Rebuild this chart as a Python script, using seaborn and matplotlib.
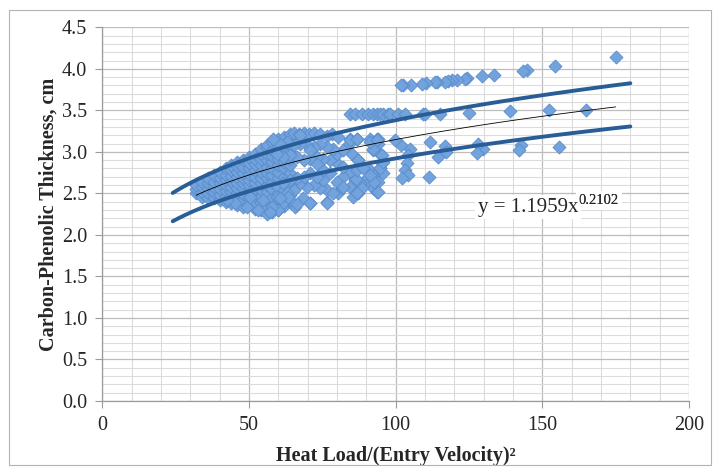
import numpy as np
import pandas as pd
import matplotlib
matplotlib.use("Agg")
import matplotlib.pyplot as plt
import seaborn as sns
from matplotlib.patches import Rectangle
from matplotlib.ticker import MultipleLocator

# ---------------- data ----------------
cluster_x = [32]*3 + [34]*4 + [36]*5 + [38]*5 + [40]*6 + [42]*7 + [44]*8 + [46]*9 + [48]*9 + [50]*9 \
    + [52]*10 + [54]*11 + [56]*12 + [58]*11 + [60]*11 + [62]*11 + [64]*11
cluster_y = [2.50, 2.55, 2.60,
             2.46, 2.52, 2.58, 2.64,
             2.44, 2.50, 2.56, 2.62, 2.68,
             2.45, 2.52, 2.58, 2.64, 2.72,
             2.42, 2.48, 2.55, 2.62, 2.68, 2.76,
             2.40, 2.47, 2.53, 2.60, 2.66, 2.72, 2.80,
             2.38, 2.45, 2.52, 2.58, 2.65, 2.71, 2.78, 2.84,
             2.36, 2.44, 2.50, 2.57, 2.63, 2.70, 2.76, 2.83, 2.88,
             2.34, 2.42, 2.49, 2.56, 2.62, 2.68, 2.75, 2.82, 2.90,
             2.37, 2.45, 2.52, 2.60, 2.66, 2.73, 2.80, 2.87, 2.94,
             2.31, 2.40, 2.48, 2.56, 2.63, 2.70, 2.78, 2.85, 2.92, 2.98,
             2.30, 2.38, 2.46, 2.54, 2.62, 2.69, 2.76, 2.84, 2.91, 2.98, 3.04,
             2.25, 2.34, 2.44, 2.52, 2.60, 2.68, 2.75, 2.82, 2.90, 2.97, 3.05, 3.08,
             2.27, 2.36, 2.45, 2.55, 2.64, 2.72, 2.80, 2.88, 2.95, 3.02, 3.12,
             2.30, 2.40, 2.50, 2.58, 2.68, 2.76, 2.84, 2.92, 3.00, 3.08, 3.15,
             2.35, 2.44, 2.54, 2.62, 2.70, 2.80, 2.88, 2.96, 3.04, 3.12, 3.18,
             2.40, 2.48, 2.58, 2.66, 2.75, 2.84, 2.92, 3.00, 3.08, 3.16, 3.22]

mid_x = [65.2, 66.9, 68.6, 70.3, 72.0, 74.2, 76.5, 78.2, 80.5, 84.5, 86.7, 84.2, 85.0, 87.3,
         91.3, 93.6, 94.1, 92.4, 94.7, 95.3, 91.3, 93.0, 94.7, 86.7, 84.5, 82.2, 86.2, 89.0,
         91.3, 94.1, 92.4, 93.6, 87.3, 85.6, 80.5, 81.6, 76.5, 70.8, 65.7, 64.0, 61.7, 60.0,
         57.8, 76.5, 74.2, 72.0, 69.7, 67.4, 65.2, 62.9, 59.5, 75.4, 77.7, 75.4, 73.1, 70.8,
         68.6, 66.3, 64.0, 61.7, 79.9, 77.7, 75.4, 73.1, 70.8, 68.6, 66.3, 64.0, 61.7, 59.5,
         79.9, 82.2, 78.8, 76.5, 74.2, 72.0, 69.7, 67.4, 65.2, 62.9, 60.6, 58.3, 84.5, 79.9,
         82.2, 67.4, 70.8, 73.1, 78.8, 82.2, 86.7, 87.9, 68.5, 63.4, 60.6, 66.3, 70.8, 76.5,
         49.2, 53.2, 57.2, 45.2, 42.4, 54.9, 50.4]
mid_y = [3.23, 3.21, 3.23, 3.21, 3.23, 3.21, 3.19, 3.21, 3.18, 3.16, 3.15, 3.10, 2.98, 2.90,
         3.15, 3.16, 3.10, 3.02, 2.98, 2.86, 2.78, 2.72, 2.80, 2.80, 2.74, 2.70, 2.66, 2.64,
         2.64, 2.64, 2.56, 2.52, 2.50, 2.46, 2.50, 2.56, 2.40, 2.38, 2.34, 2.42, 2.38, 2.30,
         2.34, 2.54, 2.56, 2.60, 2.58, 2.62, 2.54, 2.50, 2.46, 2.66, 2.74, 2.78, 2.70, 2.74,
         2.70, 2.68, 2.66, 2.62, 2.86, 2.90, 2.92, 2.94, 2.92, 2.90, 2.94, 2.96, 2.94, 2.98,
         2.98, 3.02, 3.04, 3.06, 3.10, 3.06, 3.08, 3.10, 3.08, 3.12, 3.10, 3.15, 2.58, 2.64,
         2.82, 3.20, 3.02, 2.85, 2.50, 2.58, 2.52, 2.62, 2.44, 2.46, 2.44, 2.37, 2.38, 2.38,
         2.34, 2.30, 2.27, 2.39, 2.42, 2.42, 2.46]

right_x = [175.1, 154.3, 144.7, 143.5, 133.5, 129.6, 124.2, 123.6, 120.8, 119.1, 117.9, 116.8,
           114.0, 113.4, 110.3, 108.9, 105.4, 102.6, 101.7,
           84.4, 86.1, 88.4, 90.7, 92.4, 93.5, 94.6, 95.8, 97.5, 98.0, 100.9, 103.2, 109.4, 110.0,
           115.1, 125.1, 139.0, 152.3, 164.9,
           155.8, 142.9, 142.1, 129.9, 128.2, 127.6, 116.8, 117.1, 114.6, 111.7, 111.5, 104.9,
           104.3, 101.8, 99.8, 103.7, 103.2, 104.3, 102.0, 94.1, 88.4, 86.9, 95.6, 94.6, 95.8,
           95.3, 92.6, 91.2, 86.5, 87.3, 86.8, 89.0, 92.4, 91.2, 94.1, 93.5, 84.4, 86.7]
right_y = [4.14, 4.03, 3.98, 3.97, 3.93, 3.91, 3.89, 3.88, 3.87, 3.86, 3.85, 3.84,
           3.84, 3.84, 3.83, 3.82, 3.81, 3.80, 3.80,
           3.46, 3.46, 3.46, 3.46, 3.46, 3.46, 3.46, 3.46, 3.46, 3.46, 3.46, 3.46, 3.46, 3.46,
           3.45, 3.47, 3.49, 3.50, 3.51,
           3.06, 3.08, 3.02, 3.04, 3.10, 2.99, 3.07, 3.00, 2.94, 3.12, 2.70, 3.03,
           2.96, 3.08, 3.14, 2.86, 2.78, 2.72, 2.68, 2.52, 2.56, 2.50, 2.74, 2.80, 2.88,
           2.96, 2.64, 2.72, 2.67, 2.90, 2.78, 2.80, 3.04, 3.12, 3.16, 3.14, 3.14, 3.16]

x_pts = cluster_x + mid_x + right_x
y_pts = cluster_y + mid_y + right_y

# Power-law trendline shown on the chart, y = a x^b, and its bounds
fit_a, fit_b = 1.1959, 0.2102
fit_label = "y = 1.1959x"
fit_exp_label = "0.2102"
fit_range = (32, 175)
bound_range = (24, 180)
upper_factor, lower_factor = 1.074, 0.928

x_ticks = [0, 50, 100, 150, 200]
y_ticks = [0.0, 0.5, 1.0, 1.5, 2.0, 2.5, 3.0, 3.5, 4.0, 4.5]

# ---------------- styling ----------------
sns.set_style("white")
plt.rcParams["font.family"] = ["Liberation Serif", "DejaVu Serif"]

fig = plt.figure(figsize=(7.19, 4.69), dpi=100)
ax = fig.add_axes([102.3/719, 1-401/469, (689-102.3)/719, (401-27.3)/469])

# outer chart border
fig.patches.append(Rectangle((9/719, 4/469), (711-9)/719, (459-4)/469, transform=fig.transFigure,
                             fill=False, edgecolor="#b3b3b3", linewidth=0.8))

ax.set_xlim(0, 200)
ax.set_ylim(0, 4.5)
ax.xaxis.set_major_locator(MultipleLocator(50))
ax.xaxis.set_minor_locator(MultipleLocator(10))
ax.yaxis.set_major_locator(MultipleLocator(0.5))
ax.yaxis.set_minor_locator(MultipleLocator(0.1))
ax.grid(which="major", color="#bdbdbd", linewidth=0.9)
ax.grid(which="minor", color="#dcdcdc", linewidth=0.8)
ax.set_axisbelow(True)
for s in ["top", "right"]:
    ax.spines[s].set_visible(False)
for s in ["left", "bottom"]:
    ax.spines[s].set_color("#9a9a9a")
    ax.spines[s].set_linewidth(0.9)
ax.tick_params(which="major", direction="out", length=5, color="#9a9a9a", labelsize=14.5,
               pad=6, left=True, bottom=True)
ax.tick_params(which="minor", length=0)
ax.set_xticks(x_ticks)
ax.set_xticklabels([str(t) for t in x_ticks])
ax.set_yticks(y_ticks)
ax.set_yticklabels([f"{t:.1f}" for t in y_ticks])

df = pd.DataFrame({"x": x_pts, "y": y_pts})
sns.scatterplot(data=df, x="x", y="y", ax=ax, marker="D", s=44, color="#72a3dd",
                edgecolor="#5a8ccc", linewidth=0.6, zorder=3, legend=False)

xb = np.linspace(bound_range[0], bound_range[1], 200)
xf = np.linspace(fit_range[0], fit_range[1], 200)
yf_b = fit_a * xb ** fit_b
curves = pd.DataFrame({"x": xb, "upper": yf_b * upper_factor, "lower": yf_b * lower_factor})
sns.lineplot(data=curves, x="x", y="upper", ax=ax, color="#285d97", linewidth=2.8, zorder=4)
sns.lineplot(data=curves, x="x", y="lower", ax=ax, color="#285d97", linewidth=2.8, zorder=4)
fitdf = pd.DataFrame({"x": xf, "y": fit_a * xf ** fit_b})
sns.lineplot(data=fitdf, x="x", y="y", ax=ax, color="black", linewidth=0.6, zorder=5)

# equation label: base text plus superscript placed right after it
t1 = ax.text(128, 2.28, fit_label, fontsize=15, va="baseline", ha="left", zorder=7,
             bbox=dict(facecolor="white", edgecolor="none", pad=2))
fig.canvas.draw()
bb = t1.get_window_extent()
x_end = ax.transData.inverted().transform((bb.x1 + 0.5, bb.y0))[0]
t2 = ax.text(x_end, 2.37, fit_exp_label, fontsize=10.5, va="baseline", ha="left", zorder=6,
             bbox=dict(facecolor="white", edgecolor="none", pad=2))
ax.text(x_end, 2.37, fit_exp_label, fontsize=10.5, va="baseline", ha="left", zorder=8)
t1.set_zorder(7)
t1.get_bbox_patch().set_zorder(7)

ax.set_xlabel("Heat Load/(Entry Velocity)²", fontsize=14.5, fontweight="bold", labelpad=8)
ax.set_ylabel("Carbon-Phenolic Thickness, cm", fontsize=14.5, fontweight="bold", labelpad=2)

fig.savefig("out.png", dpi=100)
